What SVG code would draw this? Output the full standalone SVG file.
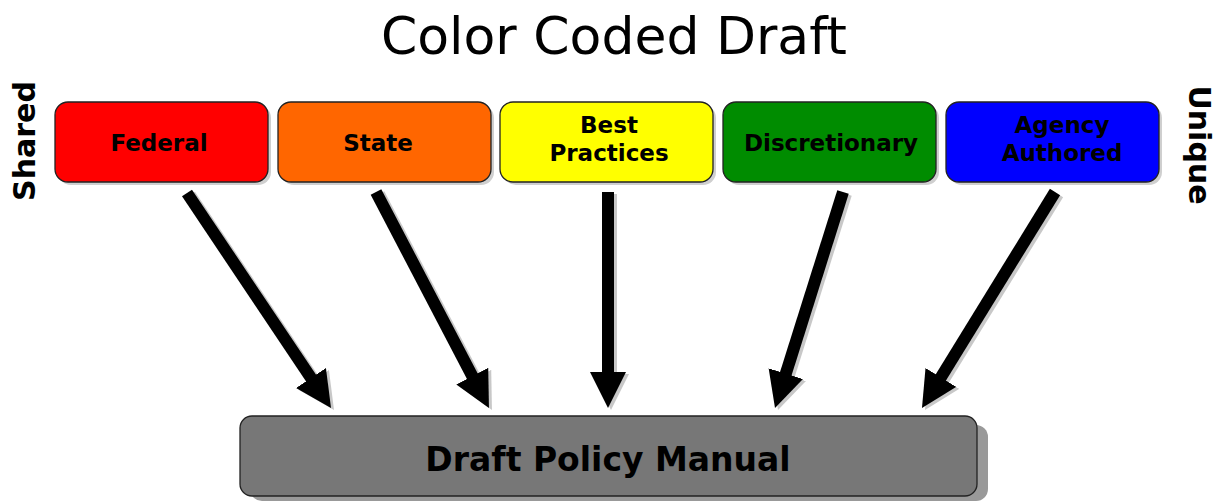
<svg xmlns="http://www.w3.org/2000/svg" width="1225" height="501" viewBox="0 0 1225 501">
<style>
.box{stroke:#222;stroke-width:1.3}
.sh{fill:#cfcfcf}
.lbl{font-family:"DejaVu Sans",Verdana,sans-serif;font-weight:bold;font-size:23px;text-anchor:middle;fill:#000}
.side{font-family:"DejaVu Sans",Verdana,sans-serif;font-weight:bold;font-size:30px;text-anchor:middle;fill:#000}
.arr{stroke:#000;stroke-width:12;fill:none}
.arrs{stroke:#c8c8c8;stroke-width:12;fill:none}
</style>
<defs>
<marker id="hd" markerUnits="userSpaceOnUse" markerWidth="40" markerHeight="40" refX="2" refY="18" orient="auto" viewBox="0 0 40 40">
<path d="M0,0 L36,18 L0,36 z" fill="#000"/>
</marker>
<marker id="hds" markerUnits="userSpaceOnUse" markerWidth="40" markerHeight="40" refX="2" refY="18" orient="auto" viewBox="0 0 40 40">
<path d="M0,0 L36,18 L0,36 z" fill="#c8c8c8"/>
</marker>
</defs>
<rect width="1225" height="501" fill="#fff"/>
<text x="614" y="54" font-family="DejaVu Sans,Verdana,sans-serif" font-size="52" text-anchor="middle" fill="#000">Color Coded Draft</text>
<text class="side" transform="translate(35,141) rotate(-90)">Shared</text>
<text class="side" transform="translate(1189,145) rotate(90)">Unique</text>
<g id="federal">
<rect class="sh" x="58" y="105" width="213" height="80" rx="13"/>
<rect class="box" x="55" y="102" width="213" height="80" rx="13" fill="#ff0000"/>
<text class="lbl" x="159" y="151">Federal</text>
</g>
<g id="state">
<rect class="sh" x="281" y="105" width="213" height="80" rx="13"/>
<rect class="box" x="278" y="102" width="213" height="80" rx="13" fill="#ff6600"/>
<text class="lbl" x="378" y="151">State</text>
</g>
<g id="best">
<rect class="sh" x="503" y="105" width="213" height="80" rx="13"/>
<rect class="box" x="500" y="102" width="213" height="80" rx="13" fill="#ffff00"/>
<text class="lbl" x="609" y="133">Best</text>
<text class="lbl" x="609" y="161">Practices</text>
</g>
<g id="discretionary">
<rect class="sh" x="726" y="105" width="213" height="80" rx="13"/>
<rect class="box" x="723" y="102" width="213" height="80" rx="13" fill="#008c00"/>
<text class="lbl" x="831" y="151">Discretionary</text>
</g>
<g id="agency">
<rect class="sh" x="949" y="105" width="213" height="80" rx="13"/>
<rect class="box" x="946" y="102" width="213" height="80" rx="13" fill="#0000ff"/>
<text class="lbl" x="1062" y="133">Agency</text>
<text class="lbl" x="1062" y="161">Authored</text>
</g>
<g id="manual">
<rect x="250" y="425" width="738" height="76" rx="12" fill="#999"/>
<rect class="box" x="240" y="416" width="737" height="80" rx="12" fill="#777"/>
<text x="608" y="471" font-family="DejaVu Sans,Verdana,sans-serif" font-weight="bold" font-size="33" text-anchor="middle" fill="#000">Draft Policy Manual</text>
</g>
<g id="connectors">
<line class="arrs" x1="190" y1="195" x2="315.1" y2="381.7" marker-end="url(#hds)"/>
<line class="arrs" x1="379" y1="194" x2="476.2" y2="379.9" marker-end="url(#hds)"/>
<line class="arrs" x1="611" y1="194" x2="611" y2="376" marker-end="url(#hds)"/>
<line class="arrs" x1="846" y1="194" x2="788.2" y2="377.6" marker-end="url(#hds)"/>
<line class="arrs" x1="1058" y1="194" x2="942.8" y2="381.1" marker-end="url(#hds)"/>
<line class="arr" x1="187" y1="193" x2="312.1" y2="379.7" marker-end="url(#hd)"/>
<line class="arr" x1="376" y1="192" x2="473.2" y2="377.9" marker-end="url(#hd)"/>
<line class="arr" x1="608" y1="192" x2="608" y2="374" marker-end="url(#hd)"/>
<line class="arr" x1="843" y1="192" x2="785.2" y2="375.6" marker-end="url(#hd)"/>
<line class="arr" x1="1055" y1="192" x2="939.8" y2="379.1" marker-end="url(#hd)"/>
</g>
</svg>
